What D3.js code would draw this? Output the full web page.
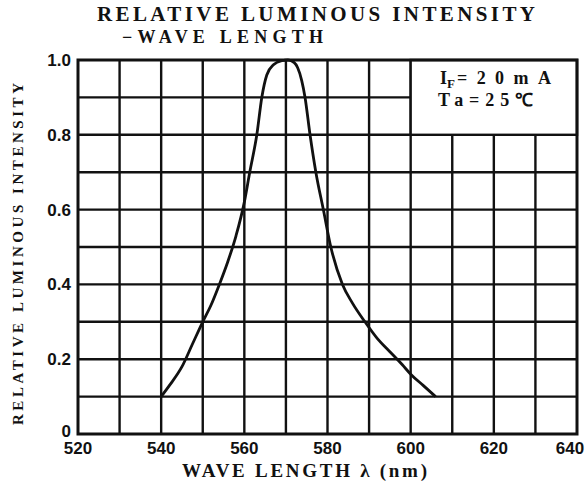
<!DOCTYPE html>
<html lang="en">
<head>
    <meta charset="UTF-8">
    <title>Relative Luminous Intensity - Wave Length</title>
    <script src="https://d3js.org/d3.v7.min.js"></script>
    <style>
        body { margin: 0; background: #fff; }
        svg { display: block; }
        .title { font-family: "Liberation Serif", serif; font-weight: bold; fill: #111; }
        .tick-label { font-family: "Liberation Sans", sans-serif; font-weight: bold; font-size: 17px; fill: #111; }
        .axis-title { font-family: "Liberation Serif", serif; font-weight: bold; fill: #111; }
        .note { font-family: "Liberation Serif", serif; font-weight: bold; font-size: 18px; fill: #111; }
    </style>
</head>
<body>
    <svg id="chart" width="586" height="490"></svg>
    <script>
        // values
        const waveLength = [540, 542, 545, 547.5, 550, 552, 554, 556, 558, 560, 561.3, 563, 564.2, 565.4, 567, 569, 570.5, 572, 572.8, 573.8, 574.6, 575.8, 577.2, 579, 580.8, 583.6, 586, 589, 592, 595, 598, 600, 603, 606];
        const intensity  = [0.10, 0.13, 0.18, 0.24, 0.30, 0.345, 0.40, 0.46, 0.53, 0.62, 0.70, 0.80, 0.90, 0.96, 0.987, 0.998, 1.00, 0.993, 0.98, 0.945, 0.90, 0.80, 0.70, 0.60, 0.50, 0.40, 0.35, 0.30, 0.255, 0.22, 0.185, 0.16, 0.13, 0.10];
        const xTicks = [520, 540, 560, 580, 600, 620, 640];
        const yTicks = [0, 0.2, 0.4, 0.6, 0.8, 1.0];
        const xGrid = d3.range(520, 641, 10);
        const yGrid = d3.range(0, 1.01, 0.1);

        const svg = d3.select("#chart");
        const x = d3.scaleLinear().domain([520, 640]).range([78, 577]);
        const y = d3.scaleLinear().domain([0, 1]).range([434, 60]);

        // grid
        const grid = svg.append("g").attr("stroke", "#111").attr("stroke-width", 2.4);
        grid.selectAll(".vg").data(xGrid.slice(1, -1)).join("line")
            .attr("x1", d => x(d)).attr("x2", d => x(d))
            .attr("y1", y(0)).attr("y2", y(1));
        grid.selectAll(".hg").data(yGrid.slice(1, -1)).join("line")
            .attr("x1", x(520)).attr("x2", x(640))
            .attr("y1", d => y(d)).attr("y2", d => y(d));

        // condition box covers the top right cells
        svg.append("rect")
            .attr("x", x(600)).attr("y", y(1))
            .attr("width", x(640) - x(600)).attr("height", y(0.8) - y(1))
            .attr("fill", "#fff").attr("stroke", "#111").attr("stroke-width", 2.4);

        // frame
        svg.append("rect")
            .attr("x", x(520)).attr("y", y(1))
            .attr("width", x(640) - x(520)).attr("height", y(0) - y(1))
            .attr("fill", "none").attr("stroke", "#111").attr("stroke-width", 3);

        // curve
        const pts = waveLength.map((w, i) => [w, intensity[i]]);
        const line = d3.line().x(d => x(d[0])).y(d => y(d[1])).curve(d3.curveMonotoneX);
        svg.append("path").datum(pts)
            .attr("d", line)
            .attr("fill", "none").attr("stroke", "#111").attr("stroke-width", 2.8);

        // tick labels
        svg.selectAll(".xl").data(xTicks).join("text")
            .attr("class", "tick-label")
            .attr("x", d => d === 640 ? x(d) - 7 : x(d))
            .attr("y", 454)
            .attr("text-anchor", "middle")
            .text(d => d);
        svg.selectAll(".yl").data(yTicks).join("text")
            .attr("class", "tick-label")
            .attr("x", 71)
            .attr("y", d => d === 0 ? y(d) + 3 : y(d) + 6)
            .attr("text-anchor", "end")
            .text(d => d === 0 ? "0" : d.toFixed(1));

        // titles
        svg.append("text").attr("class", "title")
            .attr("x", 97).attr("y", 21)
            .attr("font-size", 21)
            .attr("textLength", 438).attr("lengthAdjust", "spacing")
            .text("RELATIVE LUMINOUS INTENSITY");
        svg.append("text").attr("class", "title")
            .attr("x", 122).attr("y", 43)
            .attr("font-size", 18)
            .attr("textLength", 201).attr("lengthAdjust", "spacing")
            .text("\u2212WAVE LENGTH");

        svg.append("text").attr("class", "axis-title")
            .attr("x", 182).attr("y", 477)
            .attr("font-size", 19)
            .attr("textLength", 245).attr("lengthAdjust", "spacing")
            .text("WAVE LENGTH \u03BB (nm)");

        svg.append("text").attr("class", "axis-title")
            .attr("transform", "translate(23, 425) rotate(-90)")
            .attr("font-size", 15)
            .attr("textLength", 342).attr("lengthAdjust", "spacing")
            .text("RELATIVE LUMINOUS INTENSITY");

        // test conditions
        const note = svg.append("text").attr("class", "note")
            .attr("x", 440).attr("y", 84);
        note.append("tspan").text("I");
        note.append("tspan").attr("font-size", 13).attr("dy", 4).text("F");
        note.append("tspan").attr("dy", -4).attr("dx", 2)
            .attr("textLength", 94).attr("lengthAdjust", "spacing").text("=20mA");
        svg.append("text").attr("class", "note")
            .attr("x", 438).attr("y", 106)
            .attr("textLength", 95).attr("lengthAdjust", "spacing")
            .text("Ta=25\u2103");
    </script>
</body>
</html>
